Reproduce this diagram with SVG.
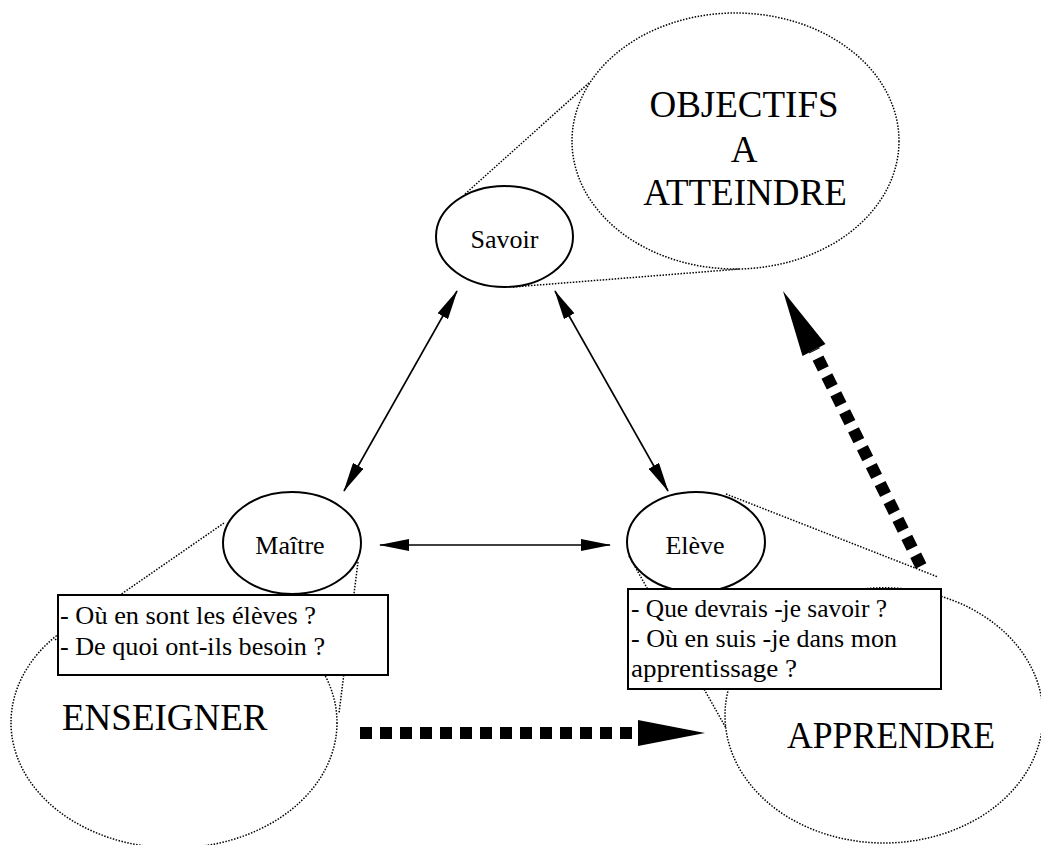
<svg xmlns="http://www.w3.org/2000/svg" width="1041" height="845" viewBox="0 0 1041 845">
<style>
.bg{fill:#fff}
.dot{fill:none;stroke:#000;stroke-width:1.5;stroke-dasharray:1.5 1.5}
.node{fill:#fff;stroke:#000;stroke-width:2}
.box{fill:#fff;stroke:#000;stroke-width:2}
.t{font-family:"Liberation Serif","Times New Roman",serif;fill:#000}
.s{font-size:26px}
.b{font-size:37px}
.arr{stroke:#000;stroke-width:1.6;fill:none}
.thick{stroke:#000;stroke-width:12;stroke-dasharray:12 8;fill:none}
</style>
<defs>
<marker id="ah" markerUnits="userSpaceOnUse" viewBox="0 0 30 12" markerWidth="30" markerHeight="12" refX="29" refY="6" orient="auto-start-reverse">
<path d="M0,0 L30,6 L0,12 z" fill="#000"/>
</marker>
</defs>
<rect class="bg" x="0" y="0" width="1041" height="845"/>

<g id="objectifs">
<ellipse class="dot" cx="735.5" cy="141" rx="163.5" ry="128"/>
<line class="dot" x1="465" y1="194" x2="590" y2="82"/>
<line class="dot" x1="513" y1="287" x2="740" y2="269"/>
<text class="t b" x="744" y="117" text-anchor="middle">OBJECTIFS</text>
<text class="t b" x="744" y="162" text-anchor="middle">A</text>
<text class="t b" x="745" y="205" text-anchor="middle">ATTEINDRE</text>
</g>

<g id="enseigner">
<ellipse class="dot" cx="174" cy="722.6" rx="163" ry="125.4"/>
<line class="dot" x1="224" y1="523" x2="55" y2="640"/>
<line class="dot" x1="358" y1="562" x2="339" y2="713"/>
<text class="t b" x="62" y="730">ENSEIGNER</text>
</g>

<g id="apprendre">
<ellipse class="dot" cx="884" cy="715.4" rx="159" ry="127.6"/>
<line class="dot" x1="726" y1="494" x2="938" y2="577"/>
<line class="dot" x1="629" y1="556" x2="726" y2="728"/>
<text class="t b" x="787" y="748" textLength="208" lengthAdjust="spacingAndGlyphs">APPRENDRE</text>
</g>

<g id="savoir">
<ellipse class="node" cx="504.5" cy="236.5" rx="68.5" ry="50.5"/>
<text class="t s" x="504.5" y="248" text-anchor="middle">Savoir</text>
</g>

<g id="maitre">
<ellipse class="node" cx="292" cy="543" rx="69" ry="51"/>
<text class="t s" x="290" y="554" text-anchor="middle">Maître</text>
</g>

<g id="eleve">
<ellipse class="node" cx="696" cy="542" rx="69" ry="50"/>
<text class="t s" x="695" y="554" text-anchor="middle">Elève</text>
</g>

<g id="maitre-questions">
<rect class="box" x="58" y="595" width="330" height="80"/>
<text class="t s" x="60" y="624" textLength="256" lengthAdjust="spacingAndGlyphs">- Où en sont les élèves ?</text>
<text class="t s" x="60" y="655" textLength="265" lengthAdjust="spacingAndGlyphs">- De quoi ont-ils besoin ?</text>
</g>

<g id="eleve-questions">
<rect class="box" x="628" y="589" width="313" height="100"/>
<text class="t s" x="631" y="617" textLength="256" lengthAdjust="spacingAndGlyphs">- Que devrais -je savoir ?</text>
<text class="t s" x="631" y="647" textLength="266" lengthAdjust="spacingAndGlyphs">- Où en suis -je dans mon</text>
<text class="t s" x="631" y="677" textLength="166" lengthAdjust="spacingAndGlyphs">apprentissage ?</text>
</g>

<g id="connectors">
<line class="arr" x1="457" y1="291" x2="344" y2="491" marker-start="url(#ah)" marker-end="url(#ah)"/>
<line class="arr" x1="555" y1="291" x2="668" y2="491" marker-start="url(#ah)" marker-end="url(#ah)"/>
<line class="arr" x1="380" y1="545" x2="610" y2="545" marker-start="url(#ah)" marker-end="url(#ah)"/>
<line class="thick" x1="360" y1="733" x2="638" y2="733"/>
<polygon points="638,720 705,733 638,746" fill="#000"/>
<line class="thick" x1="921" y1="566" x2="814" y2="350"/>
<polygon points="825.5,344 783,291 802.5,356" fill="#000"/>
</g>
</svg>
